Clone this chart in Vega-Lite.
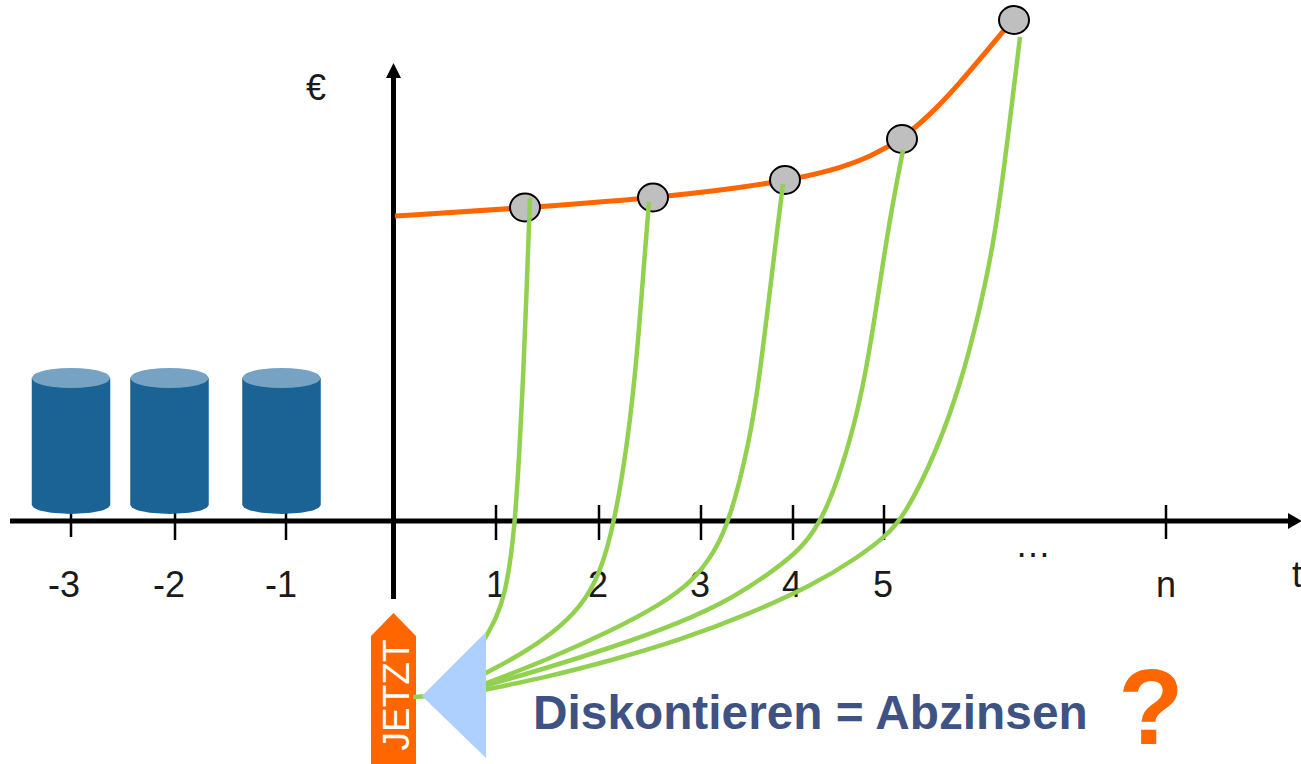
{
  "$schema": "https://vega.github.io/schema/vega-lite/v6.json",
  "width": 1301,
  "height": 764,
  "autosize": {"type": "none"},
  "padding": 0,
  "background": "white",
  "view": {"stroke": null},
  "config": {"text": {"font": "Liberation Sans"}},
  "datasets": {
    "axes": [
      {"x": 10, "x2": 1290, "y": 521, "y2": 521},
      {"x": 393.5, "x2": 393.5, "y": 75, "y2": 599}
    ],
    "ticks": [
      {"x": 71, "x2": 71, "y": 512, "y2": 537},
      {"x": 175, "x2": 175, "y": 512, "y2": 540},
      {"x": 286, "x2": 286, "y": 512, "y2": 540},
      {"x": 496, "x2": 496, "y": 505, "y2": 540},
      {"x": 599, "x2": 599, "y": 505, "y2": 540},
      {"x": 701, "x2": 701, "y": 505, "y2": 540},
      {"x": 793, "x2": 793, "y": 505, "y2": 540},
      {"x": 884, "x2": 884, "y": 505, "y2": 540},
      {"x": 1166, "x2": 1166, "y": 505, "y2": 539}
    ],
    "arrowUp": [
      {"x": 386, "y": 78, "y2": 78},
      {"x": 393.5, "y": 63, "y2": 78},
      {"x": 401, "y": 78, "y2": 78}
    ],
    "arrowRight": [
      {"x": 1288, "y": 513, "y2": 529},
      {"x": 1302, "y": 521, "y2": 521}
    ],
    "cylinders": [
      {"c": "a", "x": 31.75, "top": 378, "upper": 378, "lower": 378, "bottom": 505},
      {"c": "a", "x": 33.7, "top": 378, "upper": 374.9, "lower": 381.1, "bottom": 507.8},
      {"c": "a", "x": 39.6, "top": 378, "upper": 372, "lower": 384, "bottom": 510.4},
      {"c": "a", "x": 51.4, "top": 378, "upper": 369.3, "lower": 386.7, "bottom": 512.8},
      {"c": "a", "x": 71, "top": 378, "upper": 368, "lower": 388, "bottom": 514},
      {"c": "a", "x": 90.6, "top": 378, "upper": 369.3, "lower": 386.7, "bottom": 512.8},
      {"c": "a", "x": 102.4, "top": 378, "upper": 372, "lower": 384, "bottom": 510.4},
      {"c": "a", "x": 108.3, "top": 378, "upper": 374.9, "lower": 381.1, "bottom": 507.8},
      {"c": "a", "x": 110.25, "top": 378, "upper": 378, "lower": 378, "bottom": 505},
      {"c": "b", "x": 130.25, "top": 378, "upper": 378, "lower": 378, "bottom": 505},
      {"c": "b", "x": 132.2, "top": 378, "upper": 374.9, "lower": 381.1, "bottom": 507.8},
      {"c": "b", "x": 138.1, "top": 378, "upper": 372, "lower": 384, "bottom": 510.4},
      {"c": "b", "x": 149.9, "top": 378, "upper": 369.3, "lower": 386.7, "bottom": 512.8},
      {"c": "b", "x": 169.5, "top": 378, "upper": 368, "lower": 388, "bottom": 514},
      {"c": "b", "x": 189.1, "top": 378, "upper": 369.3, "lower": 386.7, "bottom": 512.8},
      {"c": "b", "x": 200.9, "top": 378, "upper": 372, "lower": 384, "bottom": 510.4},
      {"c": "b", "x": 206.8, "top": 378, "upper": 374.9, "lower": 381.1, "bottom": 507.8},
      {"c": "b", "x": 208.75, "top": 378, "upper": 378, "lower": 378, "bottom": 505},
      {"c": "c", "x": 242.25, "top": 378, "upper": 378, "lower": 378, "bottom": 505},
      {"c": "c", "x": 244.2, "top": 378, "upper": 374.9, "lower": 381.1, "bottom": 507.8},
      {"c": "c", "x": 250.1, "top": 378, "upper": 372, "lower": 384, "bottom": 510.4},
      {"c": "c", "x": 261.9, "top": 378, "upper": 369.3, "lower": 386.7, "bottom": 512.8},
      {"c": "c", "x": 281.5, "top": 378, "upper": 368, "lower": 388, "bottom": 514},
      {"c": "c", "x": 301.1, "top": 378, "upper": 369.3, "lower": 386.7, "bottom": 512.8},
      {"c": "c", "x": 312.9, "top": 378, "upper": 372, "lower": 384, "bottom": 510.4},
      {"c": "c", "x": 318.8, "top": 378, "upper": 374.9, "lower": 381.1, "bottom": 507.8},
      {"c": "c", "x": 320.75, "top": 378, "upper": 378, "lower": 378, "bottom": 505}
    ],
    "value": [
      {"x": 395, "y": 216},
      {"x": 525, "y": 208},
      {"x": 653, "y": 198},
      {"x": 740, "y": 188},
      {"x": 800, "y": 178},
      {"x": 840, "y": 168},
      {"x": 870, "y": 157},
      {"x": 902, "y": 139},
      {"x": 930, "y": 115},
      {"x": 960, "y": 83},
      {"x": 985, "y": 53},
      {"x": 1006, "y": 28}
    ],
    "dots": [
      {"x": 525, "y": 207.5},
      {"x": 653, "y": 197.5},
      {"x": 785, "y": 180},
      {"x": 902, "y": 139},
      {"x": 1014, "y": 20}
    ],
    "labels": [
      {"x": 64, "y": 597, "label": "-3"},
      {"x": 169, "y": 597, "label": "-2"},
      {"x": 281, "y": 597, "label": "-1"},
      {"x": 496, "y": 597, "label": "1"},
      {"x": 598, "y": 597, "label": "2"},
      {"x": 700, "y": 597, "label": "3"},
      {"x": 792, "y": 597, "label": "4"},
      {"x": 883, "y": 597, "label": "5"},
      {"x": 1166, "y": 597, "label": "n"},
      {"x": 1297, "y": 587, "label": "t"},
      {"x": 1033, "y": 557, "label": "…"},
      {"x": 316, "y": 100, "label": "€"}
    ],
    "jetzt": [
      {"x": 371, "y": 636, "y2": 764},
      {"x": 393.5, "y": 613, "y2": 764},
      {"x": 416, "y": 636, "y2": 764}
    ],
    "discount": [
      {"p": "n", "x": 413, "y": 697},
      {"p": "n", "x": 430, "y": 696},
      {"p": "1", "x": 484, "y": 640},
      {"p": "1", "x": 497, "y": 617},
      {"p": "1", "x": 505, "y": 593},
      {"p": "1", "x": 511, "y": 557},
      {"p": "1", "x": 515, "y": 520},
      {"p": "1", "x": 519, "y": 460},
      {"p": "1", "x": 523, "y": 380},
      {"p": "1", "x": 526, "y": 307},
      {"p": "1", "x": 530, "y": 198},
      {"p": "2", "x": 484, "y": 674},
      {"p": "2", "x": 520, "y": 655},
      {"p": "2", "x": 553, "y": 633},
      {"p": "2", "x": 580, "y": 608},
      {"p": "2", "x": 600, "y": 575},
      {"p": "2", "x": 615, "y": 520},
      {"p": "2", "x": 628, "y": 440},
      {"p": "2", "x": 637, "y": 357},
      {"p": "2", "x": 644, "y": 263},
      {"p": "2", "x": 649, "y": 202},
      {"p": "3", "x": 484, "y": 684},
      {"p": "3", "x": 547, "y": 660},
      {"p": "3", "x": 613, "y": 630},
      {"p": "3", "x": 660, "y": 605},
      {"p": "3", "x": 693, "y": 581},
      {"p": "3", "x": 714, "y": 553},
      {"p": "3", "x": 730, "y": 520},
      {"p": "3", "x": 750, "y": 440},
      {"p": "3", "x": 760, "y": 373},
      {"p": "3", "x": 770, "y": 290},
      {"p": "3", "x": 778, "y": 223},
      {"p": "3", "x": 783, "y": 184},
      {"p": "4", "x": 484, "y": 686},
      {"p": "4", "x": 547, "y": 668},
      {"p": "4", "x": 613, "y": 647},
      {"p": "4", "x": 680, "y": 623},
      {"p": "4", "x": 733, "y": 598},
      {"p": "4", "x": 773, "y": 571},
      {"p": "4", "x": 801, "y": 549},
      {"p": "4", "x": 825, "y": 517},
      {"p": "4", "x": 851, "y": 440},
      {"p": "4", "x": 866, "y": 373},
      {"p": "4", "x": 879, "y": 290},
      {"p": "4", "x": 889, "y": 223},
      {"p": "4", "x": 903, "y": 150},
      {"p": "5", "x": 484, "y": 690},
      {"p": "5", "x": 547, "y": 677},
      {"p": "5", "x": 613, "y": 660},
      {"p": "5", "x": 680, "y": 640},
      {"p": "5", "x": 747, "y": 615},
      {"p": "5", "x": 813, "y": 585},
      {"p": "5", "x": 857, "y": 558},
      {"p": "5", "x": 885, "y": 537},
      {"p": "5", "x": 904, "y": 517},
      {"p": "5", "x": 936, "y": 453},
      {"p": "5", "x": 961, "y": 383},
      {"p": "5", "x": 979, "y": 313},
      {"p": "5", "x": 993, "y": 247},
      {"p": "5", "x": 1004, "y": 170},
      {"p": "5", "x": 1020, "y": 37}
    ],
    "triangle": [
      {"x": 422, "y": 696, "y2": 696},
      {"x": 486, "y": 632, "y2": 758}
    ]
  },
  "encoding": {
    "x": {"field": "x", "type": "quantitative", "axis": null, "scale": {"domain": [0, 1301], "zero": false, "nice": false}},
    "y": {"field": "y", "type": "quantitative", "axis": null, "scale": {"domain": [764, 0], "zero": false, "nice": false}}
  },
  "layer": [
    {
      "data": {"name": "ticks"},
      "mark": {"type": "rule", "stroke": "#000000", "strokeWidth": 2.5},
      "encoding": {"x2": {"field": "x2"}, "y2": {"field": "y2"}}
    },
    {
      "data": {"name": "axes"},
      "mark": {"type": "rule", "stroke": "#000000", "strokeWidth": 5},
      "encoding": {"x2": {"field": "x2"}, "y2": {"field": "y2"}}
    },
    {
      "data": {"name": "arrowUp"},
      "mark": {"type": "area", "fill": "#000000"},
      "encoding": {"y2": {"field": "y2"}}
    },
    {
      "data": {"name": "arrowRight"},
      "mark": {"type": "area", "fill": "#000000"},
      "encoding": {"y2": {"field": "y2"}}
    },
    {
      "data": {"name": "cylinders"},
      "mark": {"type": "area", "fill": "#1b6295", "interpolate": "linear"},
      "encoding": {
        "y": {"field": "top", "type": "quantitative"},
        "y2": {"field": "bottom"},
        "detail": {"field": "c"}
      }
    },
    {
      "data": {"name": "cylinders"},
      "mark": {"type": "area", "fill": "#76a3c4", "interpolate": "monotone"},
      "encoding": {
        "y": {"field": "upper", "type": "quantitative"},
        "y2": {"field": "lower"},
        "detail": {"field": "c"}
      }
    },
    {
      "data": {"name": "labels"},
      "mark": {"type": "text", "fontSize": 36, "fill": "#1a1a1a", "align": "center", "baseline": "alphabetic"},
      "encoding": {"text": {"field": "label"}}
    },
    {
      "data": {"name": "value"},
      "mark": {"type": "line", "stroke": "#ff6600", "strokeWidth": 5, "interpolate": "basis"}
    },
    {
      "data": {"name": "dots"},
      "mark": {
        "type": "point",
        "shape": "M -1 0 A 1 0.93 0 1 0 1 0 A 1 0.93 0 1 0 -1 0 Z",
        "size": 900,
        "filled": true,
        "fill": "#bfbfbf",
        "stroke": "#000000",
        "strokeWidth": 2,
        "opacity": 1
      }
    },
    {
      "data": {"name": "jetzt"},
      "mark": {"type": "area", "fill": "#ff6600"},
      "encoding": {"y2": {"field": "y2"}}
    },
    {
      "data": {"name": "discount"},
      "mark": {"type": "line", "stroke": "#92d050", "strokeWidth": 4.5, "interpolate": "basis"},
      "encoding": {"detail": {"field": "p"}}
    },
    {
      "data": {"name": "triangle"},
      "mark": {"type": "area", "fill": "#add0ff"},
      "encoding": {"y2": {"field": "y2"}}
    },
    {
      "data": {"values": [{"x": 409, "y": 695, "label": "JETZT"}]},
      "mark": {"type": "text", "fontSize": 37, "fill": "#ffffff", "angle": 270, "align": "center", "baseline": "alphabetic"},
      "encoding": {"text": {"field": "label"}}
    },
    {
      "data": {"values": [{"x": 533, "y": 729, "label": "Diskontieren = Abzinsen"}]},
      "mark": {"type": "text", "fontSize": 47.8, "fontWeight": "bold", "fill": "#3f5284", "align": "left", "baseline": "alphabetic"},
      "encoding": {"text": {"field": "label"}}
    },
    {
      "data": {"values": [{"x": 1151, "y": 744, "label": "?"}]},
      "mark": {"type": "text", "fontSize": 107, "fontWeight": "bold", "fill": "#ff6600", "align": "center", "baseline": "alphabetic"},
      "encoding": {"text": {"field": "label"}}
    }
  ]
}
